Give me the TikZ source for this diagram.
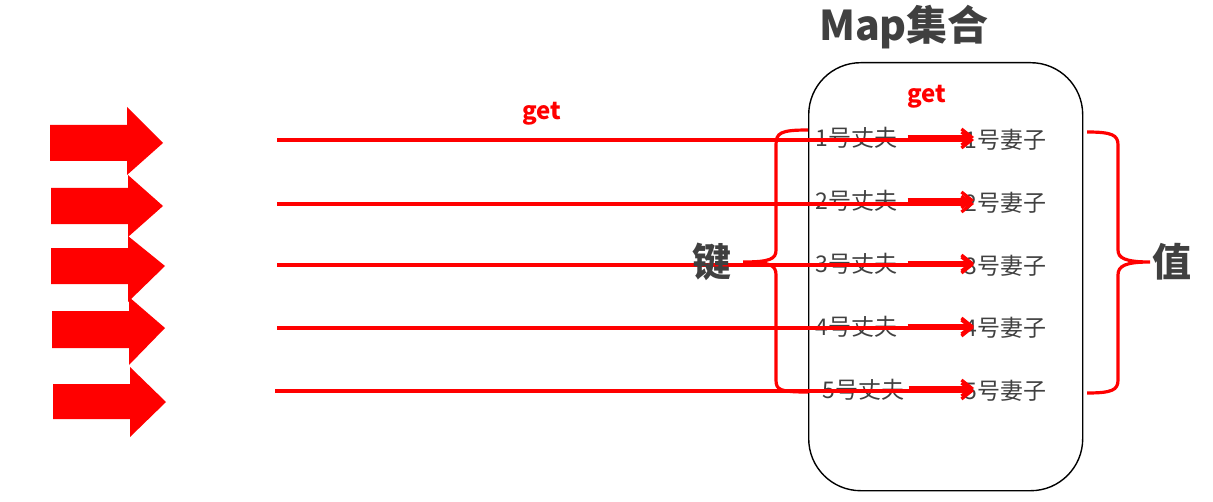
\documentclass[tikz,border=0pt]{standalone}
\usepackage{fontspec}
\setmainfont{Noto Sans CJK SC}
\usetikzlibrary{arrows.meta}
\definecolor{txt}{HTML}{404040}
\definecolor{myred}{HTML}{FF0000}
\tikzset{
  blockarrow/.style={fill=myred, draw=none},
  shortarr/.style={draw=myred, line width=1.9pt, -{Straight Barb[length=5pt,width=8pt,line width=1.6pt]}},
  longarr/.style={draw=myred, line width=1.6pt, -{Straight Barb[length=5pt,width=8pt,line width=1.6pt]}},
  brace/.style={draw=myred, line width=1.6pt},
  lbl/.style={text=txt, font=\fontsize{11.5}{12}\selectfont, inner sep=0pt},
  big/.style={text=txt, font=\bfseries\fontsize{19.5}{20}\selectfont, inner sep=0pt},
  titletxt/.style={text=txt, font=\bfseries\fontsize{20.5}{22}\selectfont, inner sep=0pt},
  gettxt/.style={text=myred, font=\bfseries\fontsize{12}{13}\selectfont, inner sep=0pt},
  mapbox/.style={draw=black, line width=0.7pt, rounded corners=26pt},
}
\begin{document}
\begin{tikzpicture}[x=0.5pt,y=-0.5pt]
\useasboundingbox (0,0) rectangle (1213,502);
% block arrows
\foreach \bx/\bt/\bb/\ht/\hb/\tx/\ty/\ex in {50/125/161/107/175/163/143/127, 51/188/224/175/237/163/206/128, 51/248/284/236/302/165/266/128, 52/311/348/297/365/165/328/129, 53/384/419/367/437/166/402/130}{
  \fill[blockarrow] (\bx,\bt) -- (\ex,\bt) -- (\ex,\ht) -- (\tx,\ty) -- (\ex,\hb) -- (\ex,\bb) -- (\bx,\bb) -- cycle;
}
% Map box
\node[mapbox, minimum width=137pt, minimum height=214pt, anchor=north west, inner sep=0pt] (box) at (808,62) {};
\node[titletxt] (title) at (904,27) {Map集合};
\node[gettxt] (get1) at (542,114) {get};
\node[gettxt] (get2) at (927,97) {get};
% husbands and wives
\node[lbl, anchor=west] (h1) at (815,138) {1号丈夫};
\node[lbl, anchor=west] (h2) at (815,201) {2号丈夫};
\node[lbl, anchor=west] (h3) at (815,264) {3号丈夫};
\node[lbl, anchor=west] (h4) at (815,327) {4号丈夫};
\node[lbl, anchor=west] (h5) at (822,390) {5号丈夫};
\node[lbl, anchor=west] (w1) at (964,140) {1号妻子};
\node[lbl, anchor=west] (w2) at (964,203) {2号妻子};
\node[lbl, anchor=west] (w3) at (964,266) {3号妻子};
\node[lbl, anchor=west] (w4) at (964,328) {4号妻子};
\node[lbl, anchor=west] (w5) at (964,391) {5号妻子};
% starts of long lines
\coordinate (s1) at (277,140);
\coordinate (s2) at (277,204);
\coordinate (s3) at (277,265);
\coordinate (s4) at (277,328);
\coordinate (s5) at (275,391);
\foreach \i/\y/\sy/\sh in {1/140/137/5pt, 2/204/200/5pt, 3/265/263/5pt, 4/328/326/5pt, 5/391/388/2pt}{
  \draw[longarr] (s\i) -- ([xshift=5pt]w\i.west |- 0,\y);
  \draw[shortarr] ([xshift=\sh]h\i.east |- 0,\sy) -- ([xshift=5pt]w\i.west |- 0,\sy);
}
% left brace
\node[big] (key) at (712,262) {键};
\coordinate (lt) at (808,130);
\coordinate (lm) at (743,262);
\coordinate (lb) at (808,392);
\draw[brace] (lt) .. controls (780,130) and (776,133) .. (776,145) -- (776,250)
  .. controls (776,259) and (770,262) .. (lm)
  .. controls (770,262) and (776,265) .. (776,275) -- (776,380)
  .. controls (776,390) and (780,392) .. (lb);
% right brace
\node[big] (val) at (1172,262) {值};
\coordinate (rt) at (1087,132);
\coordinate (rm) at (1150,262);
\coordinate (rb) at (1087,393);
\draw[brace] (rt) .. controls (1112,132) and (1118,135) .. (1118,145) -- (1118,250)
  .. controls (1118,258) and (1125,262) .. (rm)
  .. controls (1125,262) and (1118,266) .. (1118,275) -- (1118,380)
  .. controls (1118,390) and (1112,393) .. (rb);
\end{tikzpicture}
\end{document}
